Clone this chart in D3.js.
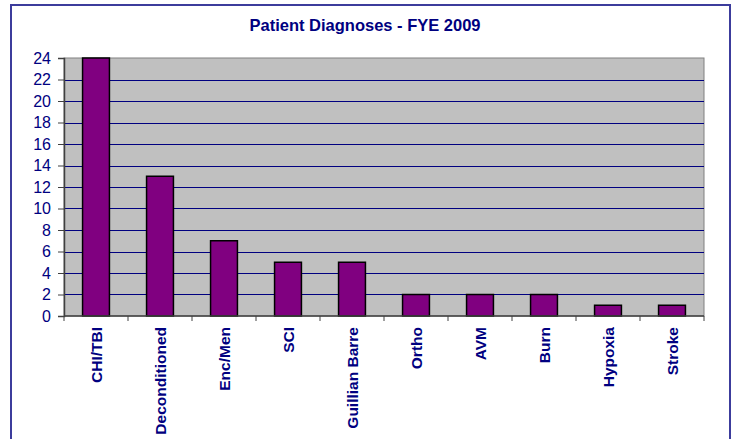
<!DOCTYPE html>
<html>
<head>
<meta charset="utf-8">
<script src="https://cdn.jsdelivr.net/npm/d3@7"></script>
<style>
  body { margin: 0; background: #fff; }
  svg { display: block; font-family: "Liberation Sans", Arial, sans-serif; }
</style>
</head>
<body>
<svg id="chart" width="734" height="439"></svg>
<script>
// chart data
const categories = ["CHI/TBI", "Deconditioned", "Enc/Men", "SCI", "Guillian Barre", "Ortho", "AVM", "Burn", "Hypoxia", "Stroke"];
const patients = [24, 13, 7, 5, 5, 2, 2, 2, 1, 1];
const yTicks = [0, 2, 4, 6, 8, 10, 12, 14, 16, 18, 20, 22, 24];

const svg = d3.select("#chart");
const navy = "#000080";

// outer chart border
svg.append("rect")
  .attr("x", 11).attr("y", 5)
  .attr("width", 719).attr("height", 450)
  .attr("fill", "#fff")
  .attr("stroke", "#3c3c9c")
  .attr("stroke-width", 2);

svg.append("text")
  .attr("x", 365).attr("y", 31)
  .attr("text-anchor", "middle")
  .attr("font-size", 16.5)
  .attr("font-weight", "bold")
  .attr("fill", navy)
  .text("Patient Diagnoses - FYE 2009");

const pLeft = 64, pRight = 704, pTop = 58, pBottom = 316;

const x = d3.scaleBand().domain(categories).range([pLeft, pRight])
  .paddingInner(0.58).paddingOuter(0.29);
const y = d3.scaleLinear().domain([0, 24]).range([pBottom, pTop]);

// plot area
svg.append("rect")
  .attr("x", pLeft).attr("y", pTop)
  .attr("width", pRight - pLeft).attr("height", pBottom - pTop)
  .attr("fill", "#c0c0c0")
  .attr("stroke", "#808080")
  .attr("stroke-width", 1);

// gridlines
svg.append("g")
  .selectAll("line")
  .data(yTicks.filter(t => t > 0 && t < 24))
  .enter()
  .append("line")
  .attr("x1", pLeft).attr("x2", pRight)
  .attr("y1", d => Math.round(y(d)) + 0.5)
  .attr("y2", d => Math.round(y(d)) + 0.5)
  .attr("stroke", navy)
  .attr("stroke-width", 1);

// bars
svg.append("g")
  .selectAll("rect")
  .data(categories)
  .enter()
  .append("rect")
  .attr("x", d => x(d))
  .attr("y", (d, i) => y(patients[i]))
  .attr("width", x.bandwidth())
  .attr("height", (d, i) => y(0) - y(patients[i]))
  .attr("fill", "#800080")
  .attr("stroke", "#000")
  .attr("stroke-width", 1.5);

// y axis
const yAxis = svg.append("g")
  .attr("transform", `translate(${pLeft},0)`)
  .call(d3.axisLeft(y).tickValues(yTicks).tickSize(6).tickPadding(7));
yAxis.select(".domain").attr("stroke", "#404040").attr("stroke-width", 1.5);
yAxis.selectAll(".tick line").attr("stroke", "#404040");
yAxis.selectAll("text")
  .attr("font-size", 16)
  .attr("font-family", "Liberation Sans, Arial, sans-serif")
  .attr("fill", navy);

// x axis
const step = x.step();
const xTicks = d3.range(categories.length + 1).map(i => pLeft + i * step);
svg.append("line")
  .attr("x1", pLeft).attr("x2", pRight)
  .attr("y1", pBottom).attr("y2", pBottom)
  .attr("stroke", "#404040").attr("stroke-width", 1.5);
svg.append("g")
  .selectAll("line")
  .data(xTicks)
  .enter()
  .append("line")
  .attr("x1", d => d).attr("x2", d => d)
  .attr("y1", pBottom).attr("y2", pBottom + 5)
  .attr("stroke", "#404040");

svg.append("g")
  .selectAll("text")
  .data(categories)
  .enter()
  .append("text")
  .attr("transform", d => `translate(${x(d) + x.bandwidth() / 2 + 6},${pBottom + 11}) rotate(-90)`)
  .attr("text-anchor", "end")
  .attr("font-size", 15.5)
  .attr("font-weight", "bold")
  .attr("fill", navy)
  .text(d => d);
</script>
</body>
</html>
